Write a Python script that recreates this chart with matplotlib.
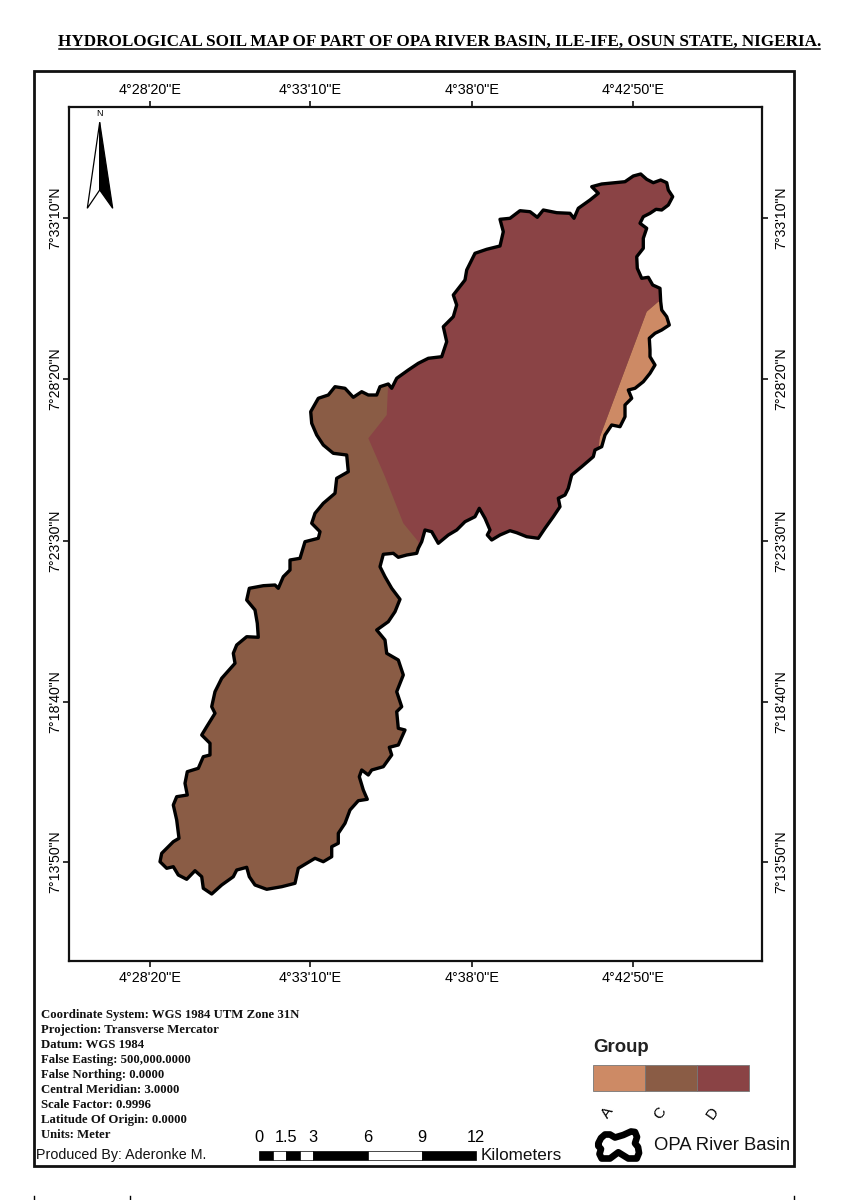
import numpy as np
import matplotlib
matplotlib.use('Agg')
import matplotlib.pyplot as plt
from matplotlib.patches import Polygon, Rectangle
from matplotlib.transforms import ScaledTranslation

# Map grid values
lon_ticks = [150, 310, 472, 633]
lon_labels = ['4°28\'20"E', '4°33\'10"E', '4°38\'0"E', '4°42\'50"E']
lat_ticks = [218, 379, 541, 702, 862]
lat_labels = ['7°33\'10"N', '7°28\'20"N', '7°23\'30"N', '7°18\'40"N', '7°13\'50"N']

# Basin outline, clockwise from the north east lobe
basin_x = [591.7, 601.7, 615, 625, 633.3, 640.7, 646.7, 653.3, 660.7, 666.7, 668.3, 672.7, 668.3, 661.7, 656, 650,
           643.3, 640, 646.7, 643.3, 643.3, 636.7, 637.3, 641.7, 648.3, 652.7, 660, 660.7, 661.7, 666.7, 669.3,
           661.7, 655, 649.3, 650, 650, 655, 650, 643.3, 635, 628.3, 631.7, 625, 625, 620, 611.7, 605, 601.7, 595,
           593.3, 581.7, 571.7, 568.3, 565, 558.3, 560, 553.3, 545, 538.3, 526.7, 516.7, 510, 500, 491.7, 487.3,
           490, 485, 479.3, 475, 465, 456.7, 448.3, 438.3, 431.7, 425, 421.7, 418.3,
           416.7, 406.7, 398.3, 393.3, 383.3, 380, 385, 391.7, 400, 395, 388.3, 376.7, 385, 386.7, 398.3, 403.3,
           396.7, 401.7, 396.7, 398.3, 405, 398.3, 389.3, 391.7, 383.3, 371.7, 368.3, 361.7, 359.3, 363.3, 367.3,
           358.3, 350, 345, 338.3, 338.3, 331.7, 331.7, 323.3, 315, 298.3, 295, 281.7, 266.7, 255, 249.3, 246.7,
           236.7, 233.3, 221.7, 211.7, 203.3, 201.7, 195, 186.7, 178.3, 173.3, 166.7, 160, 161.7, 173.3, 179,
           176.7, 173.3, 176.7, 187.3, 185, 187.3, 198.3, 203.3, 210, 210, 201.7, 206.7, 215, 211.7, 215, 221.7,
           235, 233.3, 236.7, 246.7, 258.3, 257.3, 255, 246.7, 249.3, 263.3, 275, 278.3, 283.3, 290, 290, 300, 305,
           318.3, 320, 311.7,
           315, 323.3, 335, 336.7, 348.3, 346.7, 333.3, 323.3, 316.7, 311.7, 310.7, 318.3, 328.3, 335, 345, 353.3,
           361.7, 368.3, 376.7, 380, 388.3, 391.7, 396.7, 408.3, 418.3, 428.3, 441.7, 446.7, 443.3, 453.3, 456.7,
           453.3, 465, 466.7, 475, 486.7, 500, 503.3, 500, 510, 520, 530, 537.3, 543.3, 556.7, 570, 574, 578.3,
           590, 598.3]
basin_y = [186.7, 184, 182.7, 181.7, 176, 174, 179.3, 182.7, 180, 182.7, 190, 196.7, 205, 210, 209.3, 213.3,
           216.7, 223.3, 228.3, 238.3, 248.3, 256.7, 268.3, 278.3, 277.3, 285, 288.3, 301.7, 310, 316.7, 325,
           330, 333.3, 338.3, 350, 356.7, 365, 373.3, 381.7, 388.3, 390, 398.3, 405, 416.7, 426.7, 425, 435, 446.7, 450,
           456.7, 466.7, 475, 488.3, 495, 498.3, 506.7, 516.7, 528.3, 538.3, 536.7, 532.7, 530.7, 535, 540, 535,
           530, 518.3, 508.3, 516.7, 521.7, 530, 535, 543.3, 531.7, 530, 541.7, 548.3,
           553.3, 555, 557.3, 553.3, 554.3, 566.7, 576.7, 588.3, 599.3, 611.7, 621.7, 630, 640, 653.3, 660, 675,
           691.7, 706.7, 711.7, 728.3, 730, 745, 747.3, 755, 766.7, 770, 775, 770, 776.7, 790, 799.3,
           800.7, 810, 823.3, 833.3, 843.3, 846.7, 856.7, 861.7, 858.3, 868.3, 883.3, 886.7, 889.3, 885, 876.7, 867.3,
           870, 876.7, 885, 894, 888.3, 876.7, 870.7, 879.3, 875, 866.7, 868.3, 861.7, 853.3, 841.7, 838.3,
           820, 805, 796.7, 795, 783.3, 771.7, 768.3, 756.7, 755, 743.3, 735, 726.7, 713.3, 706.7, 691.7, 678.3,
           663.3, 653.3, 645, 636.7, 637.3, 623.3, 610, 600, 588.3, 585.7, 585, 588.3, 576.7, 570, 560, 558.3, 541.7,
           538.3, 531.7, 523.3,
           513.3, 503.3, 493.3, 478.3, 471.7, 455, 453.3, 445, 435, 423.3, 411.7, 398.3, 395, 386.7, 388.3, 397.3,
           391.7, 395, 395, 386.7, 384, 388.3, 378.3, 370, 363.3, 358.3, 356.7, 341.7, 326.7, 316.7, 305,
           295, 280, 270, 253.3, 249.3, 246, 231.7, 219.3, 218.3, 210.7, 211.7, 217.3, 210, 212.7, 213.3, 218.3, 208.3,
           200, 193.3]

# Soil group areas, clipped to the basin when drawn
group_d_x = [388.3, 386.7, 368.3, 385, 403.3, 418.3, 418, 583, 600, 646.7, 658.3, 700, 700, 388.3]
group_d_y = [380, 415, 438.3, 476.7, 523.3, 541.7, 590, 590, 436.7, 311.7, 301.7, 290, 150, 150]
group_a_x = [600, 646.7, 658.3, 700, 700, 583]
group_a_y = [436.7, 311.7, 301.7, 290, 480, 480]

group_names = ['A', 'C', 'D']
group_colors = ['#CD8A65', '#8A5C45', '#8A4345']

info_lines = ['Coordinate System: WGS 1984 UTM Zone 31N', 'Projection: Transverse Mercator', 'Datum: WGS 1984',
              'False Easting: 500,000.0000', 'False Northing: 0.0000', 'Central Meridian: 3.0000',
              'Scale Factor: 0.9996', 'Latitude Of Origin: 0.0000', 'Units: Meter']

scale_km = [0, 1.5, 3, 6, 9, 12]
scale_labels = ['0', '1.5', '3', '6', '9', '12']
scale_edges = [0, 0.78, 1.5, 2.28, 3, 6, 9, 12]

# Basin symbol in the legend
symbol_x = [598.3, 601, 605, 610, 615, 623.3, 631, 635, 637, 635, 638, 639, 636.7, 628.3, 618.3, 610, 601.7, 599.5, 601, 598.3]
symbol_y = [1143.3, 1138, 1134.5, 1134.5, 1137.5, 1135, 1131.5, 1132, 1137, 1143.3, 1147, 1153, 1158.5, 1158.5, 1152.3, 1158.5, 1158.5, 1154, 1149, 1146]

WIDTH, HEIGHT = 848, 1200
SANS = 'Liberation Sans'
SERIF = 'Liberation Serif'

fig = plt.figure(figsize=(WIDTH / 100, HEIGHT / 100), dpi=100, facecolor='white')

# Main map
ax = fig.add_axes([69 / WIDTH, 1 - 961 / HEIGHT, (762 - 69) / WIDTH, (961 - 107) / HEIGHT])
ax.set_xlim(69, 762)
ax.set_ylim(961, 107)
for side in ax.spines.values():
    side.set_linewidth(1.6)
    side.set_color('#111111')

basin = Polygon(np.column_stack([basin_x, basin_y]), closed=True, fc=group_colors[1], ec='none')
ax.add_patch(basin)
for xs, ys, col in [(group_a_x, group_a_y, group_colors[0]), (group_d_x, group_d_y, group_colors[2])]:
    area = Polygon(np.column_stack([xs, ys]), closed=True, fc=col, ec='none')
    ax.add_patch(area)
    area.set_clip_path(basin)
ax.add_patch(Polygon(np.column_stack([basin_x, basin_y]), closed=True, fill=False, ec='black', lw=2.4, joinstyle='round'))

ax.set_xticks(lon_ticks)
ax.set_xticklabels(lon_labels, family=SANS, fontsize=10.4)
ax.set_yticks(lat_ticks)
ax.set_yticklabels(lat_labels, family=SANS, fontsize=10.2, va='center')
ax.tick_params(axis='both', length=4.5, width=1.2, color='#111111',
               top=True, bottom=True, left=True, right=True,
               labeltop=True, labelbottom=True, labelleft=True, labelright=True)
ax.tick_params(axis='x', pad=2.5)
ax.tick_params(axis='y', pad=0.5, labelrotation=90)

# right hand labels sit further out than the left ones
shift = ScaledTranslation(5 / 100, 0, fig.dpi_scale_trans)
for tick in ax.yaxis.get_major_ticks():
    tick.label2.set_transform(tick.label2.get_transform() + shift)

# Page furniture goes on a full size axes in pixel units, over the map
page = fig.add_axes([0, 0, 1, 1], facecolor='none')
page.set_xlim(0, WIDTH)
page.set_ylim(HEIGHT, 0)
page.axis('off')

page.text(439.5, 42, 'HYDROLOGICAL SOIL MAP OF PART OF OPA RIVER BASIN, ILE-IFE, OSUN STATE, NIGERIA.',
          family=SERIF, weight='bold', fontsize=12.3, ha='center', va='center')
page.plot([59, 820], [48.5, 48.5], color='black', lw=1.1)
page.add_patch(Rectangle((34, 71), 760, 1095, fill=False, ec='#111111', lw=2))
for x in [34, 130, 794]:
    page.plot([x, x], [1196, 1200], color='black', lw=1)

# North arrow
page.text(99.5, 114, 'N', family=SANS, fontsize=6.4, ha='center', va='center')
page.add_patch(Polygon([(99.7, 122.3), (87.3, 208.3), (99.7, 190)], fc='white', ec='black', lw=0.9))
page.add_patch(Polygon([(99.7, 122.3), (112.7, 208.3), (99.7, 190)], fc='black', ec='black', lw=0.9))

# Projection notes
for i, line in enumerate(info_lines):
    page.text(41, 1015 + i * 15, line, family=SERIF, weight='bold', fontsize=9.2, va='center', color='#111111')
page.text(36, 1155, 'Produced By: Aderonke M.', family=SANS, fontsize=10.3, va='center', color='#111111')

# Scale bar
bar_left, bar_px_per_km = 259, (476 - 259) / 12
for i in range(len(scale_edges) - 1):
    page.add_patch(Rectangle((bar_left + scale_edges[i] * bar_px_per_km, 1151),
                             (scale_edges[i + 1] - scale_edges[i]) * bar_px_per_km, 9,
                             fc='black' if i % 2 == 0 else 'white', ec='black', lw=0.5))
for km, lab in zip(scale_km, scale_labels):
    page.text(bar_left + km * bar_px_per_km, 1138, lab, family=SANS, fontsize=11.8, ha='center', va='center')
page.text(481, 1155, 'Kilometers', family=SANS, fontsize=12.3, va='center', color='#111111')

# Legend
page.text(593, 1047, 'Group', family=SANS, weight='bold', fontsize=13.4, va='center', color='#222222')
for i, (name, col) in enumerate(zip(group_names, group_colors)):
    page.add_patch(Rectangle((593 + i * 52, 1065), 52, 26, fc=col, ec='#777777', lw=0.6))
    page.text(608 + i * 52.5, 1113, name, family=SANS, fontsize=11, rotation=55, ha='center', va='center')

page.add_patch(Polygon(np.column_stack([symbol_x, symbol_y]), closed=True, fc='white', ec='black', lw=4.8, joinstyle='round'))
page.text(654, 1146, 'OPA River Basin', family=SANS, fontsize=13.3, va='center', color='#111111')

fig.savefig('out.png', dpi=100)
